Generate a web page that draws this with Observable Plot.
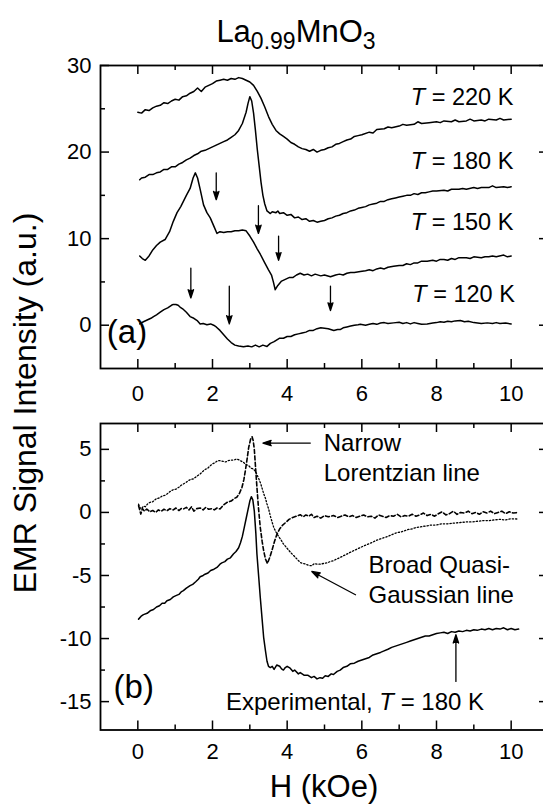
<!DOCTYPE html>
<html><head><meta charset="utf-8">
<script src="https://cdn.jsdelivr.net/npm/d3@7"></script>
<script src="https://cdn.jsdelivr.net/npm/@observablehq/plot@0.6"></script>
<style>
html,body{margin:0;padding:0;width:543px;height:806px;overflow:hidden;background:#fff;}
#wrap{position:relative;width:543px;height:806px;font-family:"Liberation Sans",Arial,sans-serif;}
#pa,#pb,#ov{position:absolute;left:0;}
#pa{top:0;} #pb{top:410px;} #ov{top:0;pointer-events:none;}
</style></head><body><div id="wrap"><div id="pa"></div><div id="pb"></div>
<svg id="ov" width="543" height="806" font-family="Liberation Sans, Arial, sans-serif" fill="black">
<text x="296" y="42" text-anchor="middle" font-size="31">La<tspan font-size="23" dy="7">0.99</tspan><tspan dy="-7">MnO</tspan><tspan font-size="23" dy="7">3</tspan></text>
<text transform="translate(36,403) rotate(-90)" text-anchor="middle" font-size="32">EMR Signal Intensity (a.u.)</text>
<text x="324" y="797" text-anchor="middle" font-size="31">H (kOe)</text>
</svg></div>
<script>
// ---------- data: panel (a), field H (kOe) vs EMR signal ----------
const c220 = [[0.0,24.6],[0.1,24.5],[0.2,24.9],[0.3,24.8],[0.4,25.1],[0.5,25.3],[0.6,25.4],[0.7,25.7],[0.8,25.6],[0.9,25.9],[1.0,26.1],[1.1,26.0],[1.2,26.4],[1.3,26.5],[1.4,26.8],[1.5,27.0],[1.6,27.4],[1.7,27.0],[1.8,27.5],[1.9,27.7],[2.0,27.9],[2.1,28.2],[2.2,28.3],[2.3,28.4],[2.4,28.3],[2.5,28.5],[2.6,28.4],[2.7,28.6],[2.8,28.5],[2.9,28.3],[3.0,28.1],[3.1,27.7],[3.2,27.0],[3.3,26.2],[3.4,25.2],[3.5,24.1],[3.6,23.2],[3.7,22.5],[3.8,22.1],[3.9,21.8],[4.0,21.5],[4.1,21.1],[4.2,20.9],[4.3,20.6],[4.4,20.4],[4.5,20.3],[4.6,20.1],[4.7,20.3],[4.8,20.0],[4.9,20.2],[5.0,20.3],[5.1,20.5],[5.2,20.6],[5.3,20.9],[5.4,21.0],[5.5,21.2],[5.6,21.4],[5.7,21.5],[5.8,21.8],[5.9,21.9],[6.0,22.0],[6.2,22.3],[6.3,22.2],[6.4,22.6],[6.6,22.7],[6.7,22.9],[6.8,22.8],[7.0,23.0],[7.1,23.2],[7.2,23.1],[7.4,23.2],[7.5,23.5],[7.6,23.3],[7.8,23.4],[8.0,23.5],[8.1,23.4],[8.2,23.6],[8.4,23.5],[8.5,23.7],[8.6,23.5],[8.8,23.6],[8.9,23.8],[9.0,23.6],[9.2,23.7],[9.3,23.6],[9.4,23.8],[9.6,23.7],[9.7,23.9],[9.8,23.7],[10.0,23.8]];
const c180 = [[0.05,16.8],[0.1,17.0],[0.2,17.1],[0.3,17.4],[0.4,17.4],[0.5,17.6],[0.6,17.7],[0.7,18.0],[0.8,18.0],[0.9,18.3],[1.0,18.3],[1.1,18.6],[1.2,18.8],[1.3,19.1],[1.4,19.3],[1.5,19.6],[1.6,19.8],[1.7,20.1],[1.8,20.2],[1.9,20.4],[2.0,20.6],[2.1,20.8],[2.2,21.0],[2.3,21.2],[2.4,21.4],[2.5,21.7],[2.6,22.0],[2.7,22.5],[2.8,23.3],[2.9,24.6],[2.95,25.6],[3.0,26.4],[3.05,25.9],[3.1,24.5],[3.15,22.5],[3.2,20.3],[3.25,18.4],[3.3,16.5],[3.35,15.0],[3.4,14.0],[3.46,13.2],[3.55,12.9],[3.6,13.1],[3.7,13.0],[3.75,13.2],[3.8,12.9],[3.9,13.0],[4.0,12.7],[4.1,12.8],[4.2,12.4],[4.3,12.5],[4.4,12.2],[4.5,12.3],[4.6,12.0],[4.7,12.1],[4.8,11.9],[4.9,12.0],[5.0,12.1],[5.1,12.3],[5.2,12.4],[5.3,12.6],[5.4,12.7],[5.5,12.9],[5.6,13.0],[5.7,13.2],[5.8,13.3],[5.9,13.5],[6.0,13.6],[6.1,13.7],[6.2,13.9],[6.3,14.0],[6.4,14.1],[6.5,14.3],[6.6,14.3],[6.7,14.5],[6.8,14.6],[6.9,14.7],[7.0,14.8],[7.1,14.9],[7.2,15.0],[7.3,15.0],[7.4,15.2],[7.5,15.1],[7.6,15.3],[7.7,15.3],[7.8,15.4],[7.9,15.5],[8.0,15.5],[8.2,15.6],[8.3,15.5],[8.4,15.7],[8.6,15.7],[8.7,15.8],[8.8,15.7],[9.0,15.9],[9.1,15.8],[9.2,15.9],[9.4,15.9],[9.5,16.1],[9.6,15.9],[9.8,16.0],[9.9,15.9],[10.0,16.0]];
const c150 = [[0.05,8.0],[0.12,7.7],[0.2,7.5],[0.3,8.0],[0.4,8.7],[0.5,9.2],[0.6,9.6],[0.73,9.9],[0.85,10.8],[0.95,12.0],[1.05,13.0],[1.15,13.7],[1.22,14.3],[1.3,15.0],[1.4,15.8],[1.48,17.0],[1.54,17.6],[1.6,17.0],[1.67,15.7],[1.76,13.9],[1.85,13.0],[1.94,12.4],[2.05,11.3],[2.12,10.6],[2.2,10.8],[2.3,10.7],[2.4,10.8],[2.5,10.8],[2.6,10.9],[2.7,10.9],[2.8,11.0],[2.9,10.9],[3.0,10.3],[3.1,9.6],[3.2,8.8],[3.28,8.2],[3.4,7.2],[3.5,6.4],[3.58,5.8],[3.63,5.0],[3.68,4.1],[3.75,4.6],[3.85,5.1],[3.95,5.3],[4.05,5.5],[4.15,5.5],[4.25,5.8],[4.35,6.0],[4.45,5.8],[4.55,5.9],[4.65,5.7],[4.75,5.9],[4.9,5.7],[5.0,5.8],[5.16,5.6],[5.3,5.8],[5.4,5.9],[5.5,5.8],[5.6,6.0],[5.7,6.1],[5.8,6.1],[5.96,6.2],[6.1,6.3],[6.2,6.4],[6.3,6.3],[6.4,6.5],[6.5,6.6],[6.6,6.5],[6.7,6.7],[6.85,6.8],[7.0,6.9],[7.1,6.9],[7.2,7.1],[7.3,7.0],[7.4,7.2],[7.5,7.2],[7.6,7.4],[7.75,7.4],[7.9,7.5],[8.0,7.4],[8.1,7.6],[8.2,7.6],[8.3,7.5],[8.4,7.7],[8.5,7.6],[8.6,7.8],[8.8,7.8],[8.9,7.7],[9.0,7.9],[9.2,7.8],[9.3,7.9],[9.4,7.9],[9.5,8.0],[9.6,7.9],[9.8,8.1],[9.9,7.9],[10.0,8.0]];
const c120 = [[0.05,0.15],[0.15,0.4],[0.25,0.6],[0.35,0.8],[0.42,1.0],[0.5,1.2],[0.6,1.5],[0.7,1.8],[0.8,2.0],[0.9,2.3],[0.95,2.4],[1.02,2.4],[1.08,2.3],[1.13,2.1],[1.2,1.9],[1.3,1.5],[1.4,1.0],[1.5,0.8],[1.6,0.5],[1.67,0.15],[1.75,0.2],[1.85,0.05],[1.95,0.15],[2.03,0.0],[2.1,-0.2],[2.2,-0.6],[2.3,-1.1],[2.4,-1.6],[2.5,-2.0],[2.6,-2.3],[2.7,-2.4],[2.83,-2.5],[2.95,-2.4],[3.05,-2.5],[3.15,-2.3],[3.25,-2.5],[3.35,-2.3],[3.46,-2.45],[3.55,-2.1],[3.65,-1.9],[3.8,-1.5],[3.9,-1.5],[4.0,-1.3],[4.1,-1.3],[4.2,-1.1],[4.3,-1.0],[4.4,-0.9],[4.5,-0.8],[4.6,-0.6],[4.7,-0.6],[4.8,-0.4],[4.9,-0.3],[5.0,-0.35],[5.1,-0.4],[5.25,-0.6],[5.35,-0.5],[5.42,-0.5],[5.5,-0.3],[5.6,-0.2],[5.7,-0.1],[5.8,0.0],[5.9,0.05],[5.96,0.1],[6.1,0.0],[6.2,0.1],[6.3,0.2],[6.4,0.1],[6.5,0.25],[6.6,0.3],[6.7,0.2],[6.85,0.27],[7.0,0.35],[7.1,0.2],[7.2,0.3],[7.3,0.15],[7.4,0.3],[7.5,0.2],[7.6,0.1],[7.75,0.15],[7.9,0.25],[8.0,0.3],[8.1,0.4],[8.2,0.35],[8.3,0.45],[8.4,0.4],[8.5,0.5],[8.64,0.55],[8.75,0.4],[8.85,0.45],[9.0,0.3],[9.1,0.25],[9.2,0.2],[9.36,0.27],[9.5,0.2],[9.6,0.3],[9.7,0.2],[9.85,0.25],[10.0,0.15]];
const labelsA = [{h:10.06,v:25.4,t:"T = 220 K"},{h:10.06,v:18.0,t:"T = 180 K"},{h:10.06,v:11.0,t:"T = 150 K"},{h:10.1,v:2.7,t:"T = 120 K"}];
const arrowsA = [{h:2.1,v1:17.6,v2:14.5},{h:3.23,v1:13.8,v2:10.6},{h:3.77,v1:10.3,v2:7.5},{h:1.42,v1:6.6,v2:3.15},{h:2.45,v1:4.5,v2:0.15},{h:5.16,v1:4.5,v2:1.7}];

// ---------- data: panel (b) ----------
const cExp = [[0.02,-8.46],[0.1,-8.2],[0.15,-8.1],[0.25,-8.0],[0.33,-7.8],[0.42,-7.7],[0.5,-7.5],[0.58,-7.4],[0.65,-7.2],[0.72,-7.2],[0.78,-7.0],[0.87,-6.9],[0.95,-6.7],[1.02,-6.6],[1.1,-6.5],[1.16,-6.3],[1.22,-6.2],[1.3,-6.0],[1.4,-5.8],[1.47,-5.7],[1.55,-5.5],[1.62,-5.3],[1.67,-5.1],[1.75,-5.0],[1.8,-4.9],[1.88,-4.8],[1.95,-4.6],[2.04,-4.5],[2.12,-4.36],[2.2,-4.1],[2.25,-4.0],[2.33,-3.9],[2.4,-3.7],[2.48,-3.6],[2.56,-3.3],[2.63,-3.1],[2.7,-2.8],[2.75,-2.4],[2.8,-1.9],[2.85,-1.2],[2.9,-0.5],[2.95,0.2],[3.0,0.9],[3.04,1.25],[3.08,1.0],[3.12,0.1],[3.16,-1.6],[3.19,-3.3],[3.24,-5.2],[3.28,-6.75],[3.33,-8.5],[3.37,-9.9],[3.42,-11.0],[3.46,-11.8],[3.5,-12.2],[3.55,-12.3],[3.6,-12.2],[3.65,-12.45],[3.72,-12.1],[3.8,-12.2],[3.85,-12.4],[3.9,-12.5],[3.95,-12.3],[4.0,-12.2],[4.08,-12.35],[4.15,-12.6],[4.2,-12.5],[4.3,-12.8],[4.35,-12.7],[4.45,-12.9],[4.55,-12.9],[4.65,-13.1],[4.72,-13.0],[4.8,-13.2],[4.88,-13.1],[4.95,-13.15],[5.02,-12.95],[5.1,-13.0],[5.18,-12.8],[5.24,-12.85],[5.34,-12.6],[5.42,-12.5],[5.5,-12.3],[5.6,-12.2],[5.69,-12.0],[5.8,-11.95],[5.9,-11.8],[6.0,-11.7],[6.1,-11.6],[6.2,-11.5],[6.3,-11.3],[6.4,-11.2],[6.5,-11.1],[6.58,-11.0],[6.7,-10.85],[6.8,-10.7],[6.9,-10.6],[7.0,-10.5],[7.1,-10.4],[7.2,-10.3],[7.3,-10.2],[7.4,-10.1],[7.5,-10.0],[7.6,-9.9],[7.7,-9.8],[7.8,-9.8],[7.9,-9.7],[8.0,-9.6],[8.1,-9.55],[8.2,-9.5],[8.3,-9.6],[8.4,-9.45],[8.5,-9.5],[8.6,-9.4],[8.7,-9.45],[8.8,-9.35],[8.9,-9.4],[9.0,-9.3],[9.09,-9.35],[9.2,-9.25],[9.3,-9.3],[9.4,-9.2],[9.5,-9.3],[9.6,-9.2],[9.7,-9.25],[9.8,-9.15],[9.9,-9.3],[10.0,-9.2],[10.1,-9.3],[10.2,-9.25]];
const cNarrow = [[0.02,0.53],[0.05,0.2],[0.08,-0.13],[0.12,0.3],[0.18,0.1],[0.24,0.27],[0.32,0.05],[0.4,0.15],[0.48,0.0],[0.55,0.2],[0.63,0.1],[0.7,0.25],[0.78,0.13],[0.86,0.3],[0.95,0.2],[1.02,0.35],[1.1,0.15],[1.16,0.3],[1.22,0.27],[1.3,0.4],[1.37,0.2],[1.44,0.45],[1.5,0.1],[1.58,0.3],[1.67,0.35],[1.75,0.2],[1.82,0.4],[1.9,0.25],[1.98,0.3],[2.05,0.2],[2.12,0.35],[2.2,0.27],[2.3,0.6],[2.39,0.8],[2.5,0.9],[2.58,1.1],[2.65,1.2],[2.72,1.5],[2.79,2.0],[2.84,2.6],[2.88,3.3],[2.93,4.3],[2.97,5.16],[3.02,5.8],[3.06,6.0],[3.09,5.7],[3.12,5.0],[3.15,3.7],[3.19,2.0],[3.23,0.4],[3.28,-1.2],[3.33,-2.3],[3.37,-3.04],[3.42,-3.7],[3.47,-4.05],[3.53,-3.6],[3.59,-3.04],[3.66,-2.3],[3.73,-1.7],[3.8,-1.3],[3.88,-1.0],[3.96,-0.8],[4.05,-0.55],[4.15,-0.4],[4.25,-0.3],[4.35,-0.18],[4.43,-0.35],[4.5,-0.2],[4.58,-0.3],[4.65,-0.15],[4.72,-0.4],[4.8,-0.3],[4.9,-0.45],[5.0,-0.25],[5.1,-0.35],[5.24,-0.25],[5.35,-0.4],[5.45,-0.3],[5.55,-0.2],[5.65,-0.35],[5.75,-0.25],[5.85,-0.4],[5.95,-0.3],[6.05,-0.2],[6.15,-0.35],[6.25,-0.3],[6.35,-0.45],[6.45,-0.2],[6.55,-0.3],[6.65,-0.4],[6.75,-0.25],[6.85,-0.3],[6.95,-0.15],[7.05,-0.35],[7.15,-0.25],[7.25,-0.3],[7.35,-0.15],[7.45,-0.3],[7.55,-0.2],[7.65,-0.05],[7.75,-0.25],[7.85,-0.15],[7.95,-0.3],[8.05,-0.1],[8.15,0.05],[8.25,-0.2],[8.35,-0.1],[8.45,0.1],[8.55,-0.15],[8.65,0.0],[8.75,-0.05],[8.85,0.1],[8.95,-0.1],[9.05,0.0],[9.15,-0.15],[9.25,0.05],[9.35,-0.05],[9.45,0.1],[9.55,-0.1],[9.65,0.0],[9.75,0.1],[9.85,-0.1],[9.95,0.05],[10.05,-0.05],[10.2,0.0]];
const cBroad = [[0.02,0.65],[0.06,0.35],[0.1,0.3],[0.15,0.5],[0.2,0.45],[0.27,0.7],[0.33,0.8],[0.4,0.85],[0.5,1.1],[0.58,1.15],[0.65,1.3],[0.72,1.35],[0.78,1.46],[0.86,1.65],[0.95,1.8],[1.02,1.85],[1.1,2.0],[1.16,2.15],[1.22,2.25],[1.3,2.4],[1.4,2.6],[1.48,2.65],[1.55,2.8],[1.62,2.95],[1.67,3.05],[1.74,3.25],[1.8,3.4],[1.87,3.5],[1.94,3.7],[2.0,3.85],[2.07,3.95],[2.14,4.1],[2.2,4.1],[2.28,4.05],[2.35,4.0],[2.42,4.1],[2.5,4.15],[2.57,4.15],[2.65,4.24],[2.72,4.15],[2.78,4.05],[2.83,3.97],[2.9,3.8],[2.97,3.7],[3.04,3.5],[3.1,3.44],[3.16,3.2],[3.22,2.8],[3.28,2.38],[3.33,1.9],[3.37,1.5],[3.42,1.1],[3.46,0.67],[3.51,0.2],[3.55,-0.3],[3.6,-0.8],[3.64,-1.19],[3.7,-1.55],[3.77,-1.9],[3.84,-2.2],[3.9,-2.5],[4.0,-2.85],[4.1,-3.2],[4.2,-3.5],[4.28,-3.75],[4.35,-3.97],[4.43,-4.05],[4.5,-4.1],[4.58,-4.2],[4.66,-4.23],[4.73,-4.05],[4.8,-4.1],[4.89,-4.1],[4.97,-4.05],[5.07,-4.0],[5.15,-3.9],[5.24,-3.83],[5.32,-3.7],[5.4,-3.6],[5.5,-3.45],[5.6,-3.3],[5.7,-3.15],[5.8,-3.0],[5.88,-2.9],[5.96,-2.78],[6.06,-2.65],[6.14,-2.55],[6.22,-2.45],[6.3,-2.35],[6.4,-2.2],[6.5,-2.1],[6.6,-2.0],[6.7,-1.9],[6.78,-1.8],[6.85,-1.7],[6.95,-1.6],[7.05,-1.55],[7.15,-1.45],[7.25,-1.35],[7.35,-1.3],[7.45,-1.2],[7.55,-1.15],[7.65,-1.1],[7.75,-1.06],[7.85,-1.0],[8.0,-1.0],[8.15,-0.9],[8.3,-0.9],[8.45,-0.85],[8.64,-0.8],[8.8,-0.75],[8.95,-0.75],[9.1,-0.7],[9.25,-0.65],[9.4,-0.65],[9.53,-0.6],[9.7,-0.55],[9.85,-0.6],[10.0,-0.5],[10.2,-0.53]];
const labelsB = [{h:4.98,v:4.84,t:"Narrow"},{h:4.98,v:2.52,t:"Lorentzian line"},{h:6.18,v:-4.84,t:"Broad Quasi-"},{h:6.18,v:-7.22,t:"Gaussian line"},{h:2.36,v:-15.7,t:"Experimental, T = 180 K"}];
const arrowsB = [{h1:4.62,v1:5.5,h2:3.35,v2:5.5},{h1:5.83,v1:-6.53,h2:4.66,v2:-4.68},{h1:8.52,v1:-13.4,h2:8.52,v2:-9.7}];

// ---------- ticks ----------
const xMajor = [0,2,4,6,8,10];
const xMinor = [1,3,5,7,9];
const yMajorA = [0,10,20,30], yMinorA = [5,15,25];
const yMajorB = [-15,-10,-5,0,5], yMinorB = [-12.5,-7.5,-2.5,2.5];

const FONT = "Liberation Sans, Arial, sans-serif";
const xy = d => ({h: d[0], v: d[1]});

function frameTicks(innerW, innerH, yMaj, yMin) {
  const M = 9, m = 5, sw = 1.5;
  const out = [];
  for (const [arr, L] of [[xMajor, M], [xMinor, m]]) {
    out.push(Plot.tickX(arr, {x: d => d, insetTop: innerH - L, strokeWidth: sw}));
    out.push(Plot.tickX(arr, {x: d => d, insetBottom: innerH - L, strokeWidth: sw}));
  }
  for (const [arr, L] of [[yMaj, M], [yMin, m]]) {
    out.push(Plot.tickY(arr, {y: d => d, insetRight: innerW - L, strokeWidth: sw}));
    out.push(Plot.tickY(arr, {y: d => d, insetLeft: innerW - L, strokeWidth: sw}));
  }
  out.push(Plot.frame({strokeWidth: 1.8}));
  return out;
}

function italicT(svg) {
  const ns = "http://www.w3.org/2000/svg";
  for (const t of svg.querySelectorAll("text")) {
    const s = t.textContent;
    const i = s.indexOf("T =");
    if (i < 0 || t.children.length) continue;
    t.textContent = "";
    if (i > 0) { const a = document.createElementNS(ns, "tspan"); a.textContent = s.slice(0, i); t.appendChild(a); }
    const b = document.createElementNS(ns, "tspan"); b.setAttribute("font-style", "italic"); b.textContent = "T"; t.appendChild(b);
    const c = document.createElementNS(ns, "tspan"); c.textContent = s.slice(i + 1); t.appendChild(c);
  }
}

const common = {width: 543, marginLeft: 100, marginRight: -5,
  style: {fontFamily: FONT, fontSize: "22px", color: "black", background: "transparent"}};
const arrowStyle = {headLength: 10, headAngle: 36, strokeWidth: 1.3, stroke: "black", fill: "black"};

// Panel (a)
const hA = 410, mtA = 65, mbA = 42;
const plotA = Plot.plot({
  ...common, height: hA, marginTop: mtA, marginBottom: mbA,
  x: {domain: [-1, 11]}, y: {domain: [-5, 30]},
  marks: [
    ...frameTicks(448, hA - mtA - mbA, yMajorA, yMinorA),
    Plot.axisX(xMajor, {anchor: "bottom", tickSize: 0, tickPadding: 17, tickFormat: d => String(d), label: null, fontSize: 22}),
    Plot.axisY(yMajorA, {anchor: "left", tickSize: 0, tickPadding: 9, tickFormat: d => String(d), label: null, fontSize: 22}),
    ...[c220, c180, c150, c120].map(c => Plot.line(c.map(xy), {x: "h", y: "v", strokeWidth: 1.5})),
    Plot.arrow(arrowsA, {x1: "h", y1: "v1", x2: "h", y2: "v2", ...arrowStyle}),
    Plot.text(labelsA, {x: "h", y: "v", text: "t", textAnchor: "end", lineAnchor: "bottom", fontSize: 23.5}),
    Plot.text([{h: -0.83, v: -2.05, t: "(a)"}], {x: "h", y: "v", text: "t", textAnchor: "start", lineAnchor: "bottom", fontSize: 33})
  ]
});
italicT(plotA);
document.getElementById("pa").appendChild(plotA);

// Panel (b)
const hB = 396, mtB = 13, mbB = 76.5;
const plotB = Plot.plot({
  ...common, height: hB, marginTop: mtB, marginBottom: mbB,
  x: {domain: [-1, 11]}, y: {domain: [-17.25, 7.05]},
  marks: [
    ...frameTicks(448, hB - mtB - mbB, yMajorB, yMinorB),
    Plot.axisX(xMajor, {anchor: "bottom", tickSize: 0, tickPadding: 13, tickFormat: d => String(d), label: null, fontSize: 22}),
    Plot.axisY(yMajorB, {anchor: "left", tickSize: 0, tickPadding: 9, tickFormat: d => String(d), label: null, fontSize: 22}),
    Plot.line(cBroad.map(xy), {x: "h", y: "v", strokeWidth: 1.3, strokeDasharray: "1.3,2"}),
    Plot.line(cNarrow.map(xy), {x: "h", y: "v", strokeWidth: 1.6, strokeDasharray: "4,2.5"}),
    Plot.line(cExp.map(xy), {x: "h", y: "v", strokeWidth: 1.5}),
    Plot.arrow(arrowsB, {x1: "h1", y1: "v1", x2: "h2", y2: "v2", ...arrowStyle}),
    Plot.text(labelsB, {x: "h", y: "v", text: "t", textAnchor: "start", lineAnchor: "bottom", fontSize: 24}),
    Plot.text([{h: -0.65, v: -14.7, t: "(b)"}], {x: "h", y: "v", text: "t", textAnchor: "start", lineAnchor: "bottom", fontSize: 33})
  ]
});
italicT(plotB);
document.getElementById("pb").appendChild(plotB);
</script></body></html>
